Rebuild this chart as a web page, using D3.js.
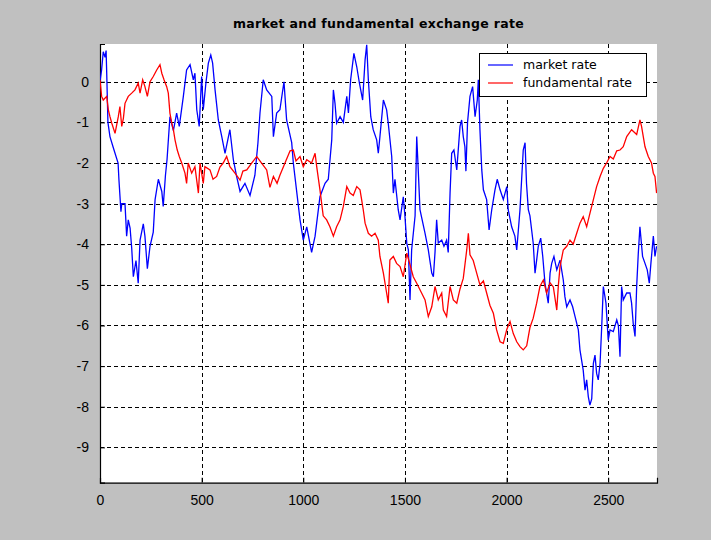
<!DOCTYPE html>
<html><head><meta charset="utf-8">
<script src="https://cdn.jsdelivr.net/npm/d3@7"></script>
<style>
html,body{margin:0;padding:0;background:#c0c0c0;}
svg{display:block;}
</style></head>
<body>
<script>
const chartTitle = "market and fundamental exchange rate";
const seriesNames = ["market rate", "fundamental rate"];
const xTicks = [0, 500, 1000, 1500, 2000, 2500];
const yTicks = [0, -1, -2, -3, -4, -5, -6, -7, -8, -9];
const xDomain = [0, 2740];
const yDomain = [-9.87, 0.93];

// [time step, value]
const marketRate = [[0,0.0],[8,0.3],[16,0.74],[25,0.6],[30,0.77],[33,0.22],[39,-1.0],[49,-1.35],[64,-1.6],[89,-2.0],[93,-2.4],[103,-3.2],[107,-3.0],[123,-3.0],[131,-3.8],[139,-3.4],[148,-3.6],[156,-4.1],[164,-4.8],[177,-4.4],[188,-4.96],[197,-3.9],[213,-3.5],[221,-3.8],[233,-4.6],[246,-4.05],[262,-3.7],[271,-2.9],[287,-2.4],[304,-2.7],[311,-3.07],[322,-2.3],[330,-1.9],[344,-0.86],[361,-1.2],[377,-0.77],[390,-1.1],[410,-0.36],[426,0.29],[443,0.42],[459,0.05],[467,0.21],[476,-0.69],[488,-1.1],[500,0.13],[508,-0.69],[521,-0.03],[533,0.46],[545,0.66],[554,0.46],[566,-0.2],[582,-0.94],[599,-1.35],[615,-1.76],[639,-1.18],[656,-1.92],[672,-2.33],[689,-2.7],[713,-2.5],[738,-2.8],[762,-2.3],[777,-1.5],[787,-0.77],[803,0.05],[820,-0.2],[845,-0.36],[853,-1.35],[869,-0.77],[885,-0.69],[905,0.0],[918,-0.94],[943,-1.5],[951,-2.0],[984,-3.4],[1000,-3.9],[1017,-3.57],[1041,-4.2],[1058,-3.8],[1082,-2.83],[1107,-2.5],[1123,-2.4],[1140,-1.43],[1148,-0.2],[1156,-0.53],[1164,-1.02],[1181,-0.86],[1197,-1.0],[1214,-0.36],[1222,-0.77],[1233,0.05],[1249,0.7],[1263,0.37],[1276,-0.03],[1292,-0.45],[1304,0.54],[1312,0.91],[1320,0.05],[1332,-0.86],[1344,-1.18],[1361,-1.43],[1369,-1.76],[1377,-1.35],[1394,-0.45],[1410,-0.69],[1418,-1.02],[1435,-1.84],[1443,-2.74],[1451,-2.4],[1467,-3.15],[1476,-3.4],[1492,-2.83],[1500,-3.3],[1509,-3.97],[1517,-4.14],[1525,-5.37],[1533,-4.14],[1550,-3.3],[1558,-1.35],[1564,-2.0],[1574,-3.15],[1599,-3.73],[1615,-4.14],[1632,-4.71],[1640,-4.8],[1648,-4.2],[1656,-3.4],[1664,-3.97],[1681,-3.9],[1692,-4.05],[1705,-3.9],[1713,-4.2],[1722,-2.74],[1730,-1.76],[1741,-1.68],[1755,-2.17],[1771,-1.1],[1779,-0.94],[1787,-1.35],[1795,-1.6],[1800,-2.2],[1808,-1.0],[1820,-0.36],[1833,-0.12],[1845,-0.86],[1856,-0.45],[1861,0.05],[1869,-1.18],[1878,-2.17],[1886,-2.66],[1902,-2.9],[1914,-3.65],[1927,-3.15],[1943,-2.66],[1954,-2.4],[1968,-2.66],[1984,-2.9],[2001,-2.58],[2008,-3.15],[2025,-3.57],[2041,-3.8],[2050,-4.14],[2066,-3.15],[2082,-1.68],[2091,-1.5],[2098,-2.5],[2107,-3.15],[2115,-3.3],[2131,-3.97],[2140,-4.71],[2148,-4.39],[2156,-4.05],[2168,-3.85],[2178,-4.3],[2189,-4.96],[2205,-5.45],[2214,-4.71],[2222,-4.47],[2233,-4.3],[2247,-4.63],[2263,-4.39],[2279,-4.88],[2287,-5.29],[2296,-5.54],[2312,-5.37],[2325,-5.54],[2337,-5.78],[2353,-6.11],[2361,-6.6],[2377,-7.1],[2386,-7.59],[2394,-7.34],[2402,-7.75],[2410,-7.96],[2419,-7.8],[2427,-6.93],[2435,-6.73],[2443,-7.18],[2451,-7.34],[2460,-6.93],[2468,-6.03],[2476,-5.04],[2489,-5.45],[2500,-6.36],[2509,-6.11],[2525,-6.15],[2542,-5.86],[2550,-6.0],[2558,-6.77],[2566,-5.04],[2574,-5.37],[2591,-5.2],[2607,-5.2],[2615,-5.45],[2623,-5.95],[2632,-6.27],[2640,-5.04],[2648,-4.22],[2656,-3.57],[2669,-4.3],[2681,-4.47],[2692,-4.63],[2702,-4.96],[2710,-4.47],[2722,-3.8],[2730,-4.3],[2738,-4.05]];

const fundamentalRate = [[0,0.05],[8,-0.36],[16,-0.45],[33,-0.36],[41,-0.69],[49,-0.86],[58,-1.02],[74,-1.27],[90,-0.86],[98,-0.61],[107,-1.1],[115,-0.9],[123,-0.53],[139,-0.36],[156,-0.28],[172,-0.2],[188,-0.03],[197,-0.28],[210,0.05],[221,-0.12],[233,-0.36],[246,0.0],[262,0.13],[279,0.29],[295,0.42],[304,0.21],[315,0.05],[328,-0.12],[336,-0.28],[344,-0.77],[353,-1.02],[361,-1.18],[369,-1.43],[380,-1.68],[390,-1.84],[402,-2.0],[418,-2.25],[426,-2.5],[434,-2.0],[451,-2.25],[467,-2.09],[484,-2.74],[492,-2.0],[508,-2.5],[516,-2.09],[541,-2.17],[556,-2.4],[574,-2.33],[590,-2.1],[606,-2.0],[623,-1.84],[639,-2.09],[664,-2.25],[689,-2.42],[703,-2.2],[722,-2.17],[746,-2.0],[771,-1.84],[795,-2.0],[820,-2.17],[836,-2.6],[853,-2.33],[871,-2.5],[885,-2.3],[910,-2.0],[935,-1.7],[951,-1.68],[964,-1.95],[984,-1.84],[1000,-2.09],[1017,-1.92],[1041,-2.0],[1058,-1.76],[1066,-2.09],[1082,-2.66],[1098,-3.3],[1115,-3.4],[1131,-3.57],[1148,-3.8],[1164,-3.57],[1181,-3.4],[1197,-3.07],[1214,-2.58],[1230,-2.74],[1246,-2.8],[1263,-2.58],[1279,-2.66],[1287,-2.9],[1295,-3.15],[1304,-3.48],[1320,-3.73],[1336,-3.8],[1353,-3.73],[1369,-3.9],[1377,-4.3],[1394,-4.71],[1410,-5.2],[1418,-5.45],[1426,-4.39],[1443,-4.3],[1459,-4.47],[1476,-4.55],[1492,-4.8],[1509,-4.22],[1525,-4.5],[1541,-4.8],[1558,-4.96],[1582,-5.2],[1599,-5.37],[1615,-5.78],[1632,-5.54],[1648,-5.04],[1664,-5.37],[1681,-5.2],[1689,-5.62],[1705,-5.78],[1722,-5.04],[1738,-5.37],[1755,-5.45],[1771,-5.1],[1787,-4.84],[1804,-4.14],[1812,-3.73],[1820,-4.26],[1836,-4.4],[1853,-4.71],[1869,-5.0],[1886,-4.9],[1902,-5.2],[1918,-5.5],[1935,-5.7],[1951,-6.11],[1968,-6.4],[1984,-6.44],[2001,-6.1],[2017,-5.9],[2033,-6.2],[2050,-6.4],[2066,-6.52],[2082,-6.6],[2099,-6.5],[2115,-6.05],[2131,-5.82],[2148,-5.45],[2164,-5.04],[2181,-4.88],[2197,-5.2],[2214,-4.95],[2230,-5.05],[2247,-5.62],[2255,-5.0],[2263,-4.55],[2279,-4.14],[2296,-4.05],[2312,-3.9],[2328,-4.0],[2345,-3.73],[2361,-3.48],[2377,-3.32],[2394,-3.57],[2410,-3.24],[2427,-2.9],[2443,-2.58],[2460,-2.33],[2476,-2.13],[2492,-2.0],[2509,-1.84],[2525,-1.9],[2542,-1.7],[2558,-1.68],[2574,-1.6],[2591,-1.35],[2615,-1.18],[2640,-1.3],[2656,-0.94],[2664,-1.1],[2681,-1.6],[2697,-1.84],[2713,-2.0],[2722,-2.25],[2730,-2.33],[2738,-2.74]];

const W = 711, H = 540;
const m = {left: 100, right: 657, top: 44, bottom: 482.7};
const svg = d3.select("body").append("svg").attr("width", W).attr("height", H);
svg.append("rect").attr("width", W).attr("height", H).attr("fill", "#c0c0c0");

const x = d3.scaleLinear().domain(xDomain).range([m.left, m.right]);
const y = d3.scaleLinear().domain(yDomain).range([m.bottom, m.top]);

svg.append("rect").attr("x", m.left).attr("y", m.top)
  .attr("width", m.right - m.left).attr("height", m.bottom - m.top).attr("fill", "#fff");

// grid
const grid = svg.append("g").attr("stroke", "#000").attr("stroke-width", 1).attr("stroke-dasharray", "4,3").attr("shape-rendering","crispEdges");
grid.selectAll(".gx").data(xTicks.filter(d => d > 0)).join("line")
  .attr("x1", d => Math.round(x(d)) + 0.5).attr("x2", d => Math.round(x(d)) + 0.5)
  .attr("y1", m.top).attr("y2", m.bottom);
grid.selectAll(".gy").data(yTicks).join("line")
  .attr("y1", d => Math.round(y(d)) + 0.5).attr("y2", d => Math.round(y(d)) + 0.5)
  .attr("x1", m.left).attr("x2", m.right);

const fmt = d => String(d);
const tickFont = "'Liberation Sans', Arial, sans-serif";
// axes
const xAxis = d3.axisBottom(x).tickValues(xTicks).tickSize(-5).tickPadding(12).tickFormat(fmt);
const gx = svg.append("g").attr("transform", `translate(0,${m.bottom})`).call(xAxis);
gx.select(".domain").attr("stroke", "#000").attr("stroke-width", 1.2);
gx.selectAll(".tick line").attr("stroke", "#000");
gx.selectAll("text").attr("font-family", tickFont).attr("font-size", 14).attr("fill", "#000");

const yAxis = d3.axisLeft(y).tickValues(yTicks).tickSize(-5).tickPadding(11).tickFormat(fmt);
const gy = svg.append("g").attr("transform", `translate(${m.left},0)`).call(yAxis);
gy.select(".domain").attr("stroke", "#000").attr("stroke-width", 1.2);
gy.selectAll(".tick line").attr("stroke", "#000");
gy.selectAll("text").attr("font-family", tickFont).attr("font-size", 14).attr("fill", "#000");

// lines
const line = d3.line().x(d => x(d[0])).y(d => y(d[1]));
const colors = ["#0000ff", "#ff0000"];
svg.append("clipPath").attr("id", "clip").append("rect")
  .attr("x", m.left).attr("y", m.top - 2).attr("width", m.right - m.left).attr("height", m.bottom - m.top + 2);
const plotG = svg.append("g").attr("clip-path", "url(#clip)");
plotG.append("path").datum(marketRate).attr("d", line).attr("fill", "none").attr("stroke", colors[0]).attr("stroke-width", 1.3);
plotG.append("path").datum(fundamentalRate).attr("d", line).attr("fill", "none").attr("stroke", colors[1]).attr("stroke-width", 1.3);

// title
svg.append("text").attr("x", (m.left + m.right) / 2).attr("y", 28).attr("text-anchor", "middle")
  .attr("font-family", "'DejaVu Sans', sans-serif").attr("font-weight", "bold").attr("font-size", 12.5)
  .attr("letter-spacing", 0.3).text(chartTitle);

// legend
const lg = svg.append("g");
lg.append("rect").attr("x", 479.5).attr("y", 53.5).attr("width", 167).attr("height", 43)
  .attr("fill", "#fff").attr("stroke", "#000").attr("stroke-width", 1);
seriesNames.forEach((n, i) => {
  const yy = 65 + i * 18;
  lg.append("line").attr("x1", 488).attr("x2", 513).attr("y1", yy).attr("y2", yy).attr("stroke", colors[i]).attr("stroke-width", 1.2);
  lg.append("text").attr("x", 523).attr("y", yy).attr("dy", "0.35em")
    .attr("font-family", "'DejaVu Sans', sans-serif").attr("font-size", 12.5).text(n);
});
</script>
</body></html>
